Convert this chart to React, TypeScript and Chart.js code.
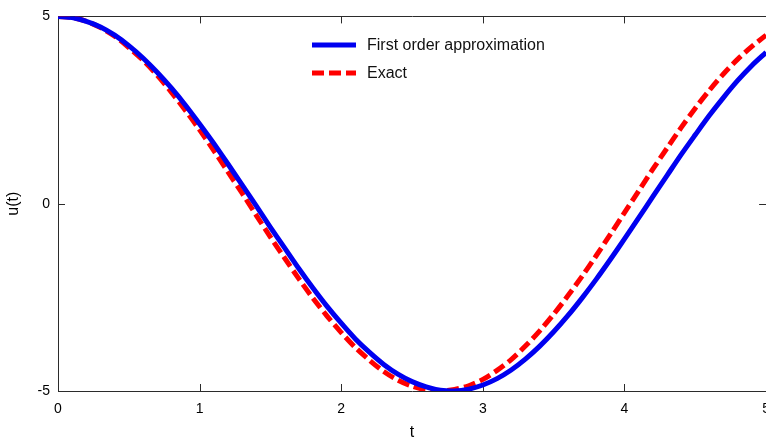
import React, { useEffect, useRef } from "react";
import { Chart, registerables } from "chart.js";

Chart.register(...registerables);

const T = [
  0, 0.1, 0.2, 0.3, 0.4, 0.5, 0.6, 0.7, 0.8, 0.9,
  1.0, 1.1, 1.2, 1.3, 1.4, 1.5, 1.6, 1.7, 1.8, 1.9,
  2.0, 2.1, 2.2, 2.3, 2.4, 2.5, 2.6, 2.7, 2.8, 2.9,
  3.0, 3.1, 3.2, 3.3, 3.4, 3.5, 3.6, 3.7, 3.8, 3.9,
  4.0, 4.1, 4.2, 4.3, 4.4, 4.5, 4.6, 4.7, 4.8, 4.9, 5.0,
];

const FIRST_ORDER = [
  5.0, 4.97, 4.87, 4.72, 4.5, 4.22, 3.89, 3.51, 3.09, 2.63,
  2.13, 1.61, 1.06, 0.5, -0.06, -0.63, -1.18, -1.73, -2.25, -2.74,
  -3.19, -3.61, -3.97, -4.29, -4.55, -4.75, -4.89, -4.98, -5.0, -4.95,
  -4.84, -4.67, -4.44, -4.15, -3.81, -3.42, -2.99, -2.52, -2.02, -1.49,
  -0.94, -0.38, 0.19, 0.75, 1.31, 1.84, 2.36, 2.84, 3.29, 3.69, 4.04,
];

const EXACT = [
  5.0, 4.97, 4.87, 4.7, 4.47, 4.17, 3.83, 3.43, 2.98, 2.49,
  1.97, 1.42, 0.85, 0.28, -0.31, -0.89, -1.45, -2.0, -2.52, -3.0,
  -3.44, -3.84, -4.18, -4.48, -4.71, -4.87, -4.97, -5.0, -4.96, -4.86,
  -4.69, -4.45, -4.16, -3.8, -3.4, -2.95, -2.46, -1.94, -1.39, -0.82,
  -0.24, 0.34, 0.92, 1.48, 2.03, 2.55, 3.03, 3.47, 3.86, 4.2, 4.5,
];

const X_TICKS = [0, 1, 2, 3, 4, 5];
const Y_TICKS = [-5, 0, 5];
const SERIES_LABELS = ["First order approximation", "Exact"];

const FONT = "'Liberation Sans', Arial, Helvetica, sans-serif";

const framePlugin = {
  id: "matlabFrame",
  beforeDatasetsDraw(chart: any) {
    const { ctx, chartArea: a, scales } = chart;
    const x = scales.x;
    const y = scales.y;
    ctx.save();
    ctx.strokeStyle = "#2b2b2b";
    ctx.lineWidth = 1;
    ctx.beginPath();
    ctx.rect(Math.round(a.left) + 0.5, Math.round(a.top) + 0.5, Math.round(a.right - a.left), Math.round(a.bottom - a.top));
    ctx.stroke();
    const len = 7;
    ctx.beginPath();
    X_TICKS.forEach((v) => {
      const px = Math.round(x.getPixelForValue(v)) + 0.5;
      ctx.moveTo(px, a.bottom);
      ctx.lineTo(px, a.bottom - len);
      ctx.moveTo(px, a.top);
      ctx.lineTo(px, a.top + len);
    });
    Y_TICKS.forEach((v) => {
      const py = Math.round(y.getPixelForValue(v)) + 0.5;
      ctx.moveTo(a.left, py);
      ctx.lineTo(a.left + len, py);
      ctx.moveTo(a.right, py);
      ctx.lineTo(a.right - len, py);
    });
    ctx.stroke();
    ctx.restore();
  },
  afterDraw(chart: any) {
    const { ctx } = chart;
    const opts = chart.options.plugins.matlabFrame;
    ctx.save();
    chart.data.datasets.forEach((ds: any, i: number) => {
      const yy = opts.legendY[i];
      ctx.beginPath();
      ctx.strokeStyle = ds.borderColor;
      ctx.lineWidth = ds.borderWidth;
      ctx.setLineDash(ds.borderDash || []);
      ctx.moveTo(opts.legendX, yy);
      ctx.lineTo(opts.legendX + opts.sampleLen, yy);
      ctx.stroke();
      ctx.setLineDash([]);
      ctx.fillStyle = "#111";
      ctx.font = `16px ${FONT}`;
      ctx.textBaseline = "middle";
      ctx.textAlign = "left";
      ctx.fillText(ds.label, opts.legendX + opts.sampleLen + 11, yy + 1);
    });
    ctx.restore();
  },
};

export default function App() {
  const ref = useRef<HTMLCanvasElement | null>(null);

  useEffect(() => {
    document.body.style.margin = "0";
    document.body.style.overflow = "hidden";
    document.documentElement.style.overflow = "hidden";
    const canvas = ref.current;
    if (!canvas) return;
    const chart = new Chart(canvas, {
      type: "line",
      data: {
        datasets: [
          {
            label: SERIES_LABELS[0],
            data: T.map((t, i) => ({ x: t, y: FIRST_ORDER[i] })),
            borderColor: "#0000f0",
            borderWidth: 5,
            pointRadius: 0,
            tension: 0.3,
            fill: false,
          },
          {
            label: SERIES_LABELS[1],
            data: T.map((t, i) => ({ x: t, y: EXACT[i] })),
            borderColor: "#ff0000",
            borderWidth: 5,
            borderDash: [12, 5],
            pointRadius: 0,
            tension: 0.3,
            fill: false,
          },
        ],
      },
      options: {
        animation: false,
        responsive: false,
        layout: { padding: { top: 14, right: 13, left: 0, bottom: 0 } },
        plugins: {
          legend: { display: false },
          tooltip: { enabled: false },
          matlabFrame: { legendX: 312, legendY: [45, 73], sampleLen: 44 },
        } as any,
        scales: {
          x: {
            type: "linear",
            min: 0,
            max: 5,
            afterFit: (s: any) => {
              s.height = 51;
            },
            afterBuildTicks: (s: any) => {
              s.ticks = X_TICKS.map((v) => ({ value: v }));
            },
            grid: { display: false, drawTicks: false },
            border: { display: false },
            ticks: {
              padding: 10,
              color: "#000",
              font: { family: FONT, size: 14 },
              maxRotation: 0,
            },
            title: {
              display: true,
              text: "t",
              color: "#000",
              font: { family: FONT, size: 16 },
              padding: { top: 0, bottom: 0 },
            },
          },
          y: {
            type: "linear",
            min: -5,
            max: 5,
            afterFit: (s: any) => {
              s.width = 58;
            },
            afterBuildTicks: (s: any) => {
              s.ticks = Y_TICKS.map((v) => ({ value: v }));
            },
            grid: { display: false, drawTicks: false },
            border: { display: false },
            ticks: {
              padding: 8,
              color: "#000",
              font: { family: FONT, size: 14 },
            },
            title: {
              display: true,
              text: "u(t)",
              color: "#000",
              font: { family: FONT, size: 16 },
              padding: { top: 4, bottom: 0 },
            },
          },
        },
      },
      plugins: [framePlugin],
    });
    return () => chart.destroy();
  }, []);

  return (
    <div style={{ width: 780, height: 442, overflow: "hidden" }}>
      <canvas ref={ref} width={780} height={442} style={{ display: "block" }} />
    </div>
  );
}
